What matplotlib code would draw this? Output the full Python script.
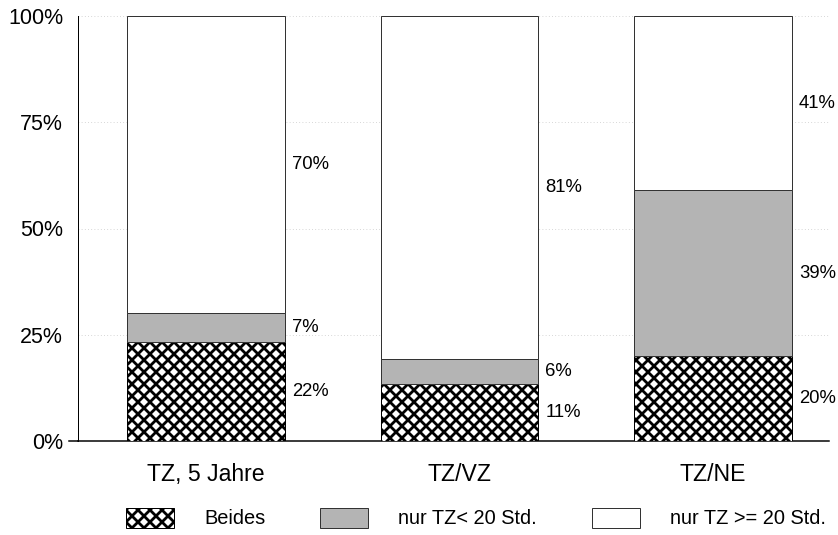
import matplotlib
matplotlib.use("Agg")
import matplotlib.pyplot as plt
import numpy as np

plt.rcParams['font.family'] = ['Liberation Sans', 'DejaVu Sans']
plt.rcParams['hatch.linewidth'] = 2.8

# data (bar heights in percent)
categories = ['TZ, 5 Jahre', 'TZ/VZ', 'TZ/NE']
beides = [23.3, 13.4, 20.0]
nur_lt20 = [6.9, 5.9, 39.0]
nur_ge20 = [69.8, 80.7, 41.0]
# printed labels
beides_txt = ['22%', '11%', '20%']
lt20_txt = ['7%', '6%', '39%']
ge20_txt = ['70%', '81%', '41%']
series_names = ['Beides', 'nur TZ< 20 Std.', 'nur TZ >= 20 Std.']
yticks = [0, 25, 50, 75, 100]
ytick_labels = ['0%', '25%', '50%', '75%', '100%']

W, H = 838, 535
fig = plt.figure(figsize=(W / 72, H / 72), dpi=72)
ax = fig.add_axes([78 / W, 1 - 441 / H, (829 - 78) / W, (441 - 16) / H])

x = np.arange(len(categories))
width = 0.623

b1 = ax.bar(x, beides, width, color='white', edgecolor='black', hatch='xx', linewidth=1.0, zorder=3)
b2 = ax.bar(x, nur_lt20, width, bottom=beides, color='#b4b4b4', edgecolor='#333333', linewidth=1.0, zorder=3)
bottom3 = np.array(beides) + np.array(nur_lt20)
b3 = ax.bar(x, nur_ge20, width, bottom=bottom3, color='white', edgecolor='#333333', linewidth=1.0, zorder=3)

# value labels to the right of each segment
for i in range(len(categories)):
    xr = x[i] + width / 2
    segs = [(beides[i] / 2, beides_txt[i]),
            (beides[i] + nur_lt20[i] / 2, lt20_txt[i]),
            (bottom3[i] + nur_ge20[i] / 2, ge20_txt[i])]
    for yc, t in segs:
        ax.annotate(t, xy=(xr, yc), xytext=(7, 0), textcoords='offset points',
                    ha='left', va='center', fontsize=18.5)

ax.set_xlim(-0.505, 2.458)
ax.set_ylim(0, 100)
ax.set_yticks(yticks)
ax.set_yticklabels(ytick_labels, fontsize=21.5)
ax.set_xticks(x)
ax.set_xticklabels(categories, fontsize=23)
ax.tick_params(axis='y', length=0, pad=15)
ax.tick_params(axis='x', length=0, pad=22)

for yv in yticks[1:]:
    ax.axhline(yv, color='#c4c4c4', linestyle=(0, (1, 3)), linewidth=0.8, zorder=1)

ax.spines['top'].set_visible(False)
ax.spines['right'].set_visible(False)
ax.spines['left'].set_linewidth(1.0)
ax.spines['bottom'].set_linewidth(1.5)
ax.plot([-0.012, 0], [0, 0], transform=ax.transAxes, color='black', lw=1.5, clip_on=False)

leg = fig.legend([b1, b2, b3], series_names, loc='center', bbox_to_anchor=(0.568, 1 - 518 / H),
                 ncol=3, frameon=False, fontsize=20, handlelength=48 / 20, handleheight=23 / 20,
                 handletextpad=30 / 20, columnspacing=55 / 20)

fig.savefig('out.png', dpi=72)
